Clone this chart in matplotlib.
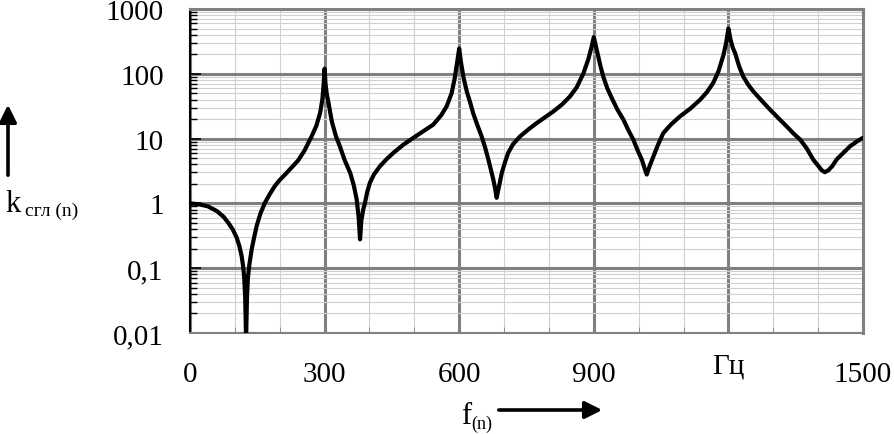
import matplotlib.pyplot as plt
import matplotlib.transforms as mtransforms
from matplotlib.ticker import FixedLocator, LogLocator, NullFormatter

plt.rcParams['font.family'] = ['Liberation Serif', 'DejaVu Serif']

# Значения
freq = [0, 20, 40, 60, 75, 85, 95, 104, 110, 115, 119, 121, 123, 125, 127, 129, 132,
        137.5, 143, 148.6, 157, 167, 178, 189, 200, 212, 225, 241, 255, 271, 282, 290,
        295, 298, 300, 302, 305, 308, 316, 325, 334, 345, 357, 365, 371.5, 376, 379,
        382, 386, 390, 395, 401, 410, 423.5, 438, 453, 475, 498, 520, 542, 560, 572,
        583, 590, 596, 600, 604, 610, 617, 625, 631, 640, 650, 658, 665, 672, 676, 680,
        683.5, 687, 691, 695, 702, 709, 720, 735.5, 755, 773, 792, 810, 830, 847, 862,
        877, 888, 895, 900, 905, 910, 915, 921, 930, 940, 952, 966, 977, 988, 998, 1007,
        1013, 1018, 1024, 1033, 1043, 1055, 1072, 1092, 1115, 1137, 1152, 1166, 1178,
        1189, 1195, 1200, 1205, 1210, 1215, 1224, 1233, 1244, 1256, 1275, 1293, 1312,
        1330, 1345, 1360, 1375, 1389, 1400, 1408, 1415, 1423, 1432, 1441, 1456, 1471,
        1486, 1500]
k_sgl = [1.0, 0.97, 0.9, 0.76, 0.62, 0.505, 0.4, 0.297, 0.22, 0.155, 0.1, 0.068, 0.035,
         0.008, 0.035, 0.07, 0.11, 0.196, 0.3, 0.448, 0.7, 1.02, 1.4, 1.85, 2.3, 2.79,
         3.5, 4.6, 6.5, 10.8, 16, 25, 40, 70, 120, 70, 48, 38, 18.5, 11, 7.6, 4.6, 2.97,
         1.9, 1.15, 0.6, 0.279, 0.55, 0.8, 1.02, 1.5, 2.08, 2.8, 3.75, 4.8, 6.0, 8.0,
         10.3, 13, 16.4, 23, 31.4, 50, 85, 160, 245, 150, 85, 53, 35, 24.8, 16.5, 10.8,
         7.2, 4.75, 3.0, 2.34, 1.7, 1.22, 1.6, 2.2, 2.97, 4.3, 6.0, 8.2, 10.8, 14, 17.4,
         21.5, 26.3, 34, 44.8, 62, 102, 170, 260, 370, 260, 185, 130, 91, 60, 42.3, 28.5,
         19.6, 13.5, 9.66, 6.5, 4.75, 3.5, 2.79, 3.7, 5.35, 8, 12.2, 16.5, 22, 29, 39.8,
         52, 72, 110, 195, 300, 500, 330, 250, 208, 130, 91, 68, 53, 38, 27.9, 20.5, 15.4,
         12, 9.66, 7, 4.75, 3.8, 3.25, 3.03, 3.25, 3.8, 4.75, 6.0, 7.6, 9, 10.3]

x_ticks = [0, 300, 600, 900, 1200, 1500]
x_labels = ['0', '300', '600', '900', 'Гц', '1500']
y_ticks = [0.01, 0.1, 1, 10, 100, 1000]
y_labels = ['0,01', '0,1', '1', '10', '100', '1000']

fig = plt.figure(figsize=(8.94, 4.35), dpi=100)
ax = fig.add_axes([190 / 894, 101 / 435, 673 / 894, 324 / 435])

ax.plot(freq, k_sgl, color='black', lw=3.0, solid_joinstyle='round',
        solid_capstyle='round', zorder=5)

ax.set_yscale('log')
ax.set_xlim(0, 1500)
ax.set_ylim(0.01, 1000)

ax.set_xticks(x_ticks)
ax.set_xticklabels(x_labels)
ax.xaxis.set_minor_locator(FixedLocator(range(100, 1500, 100)))
ax.set_yticks(y_ticks)
ax.set_yticklabels(y_labels)
ax.yaxis.set_minor_locator(LogLocator(base=10, subs=range(2, 10)))
ax.yaxis.set_minor_formatter(NullFormatter())

# сетка
ax.grid(which='major', color='#808080', lw=2.2)
ax.grid(which='minor', color='#d0d0d0', lw=0.8)
ax.set_axisbelow(True)

ax.tick_params(axis='x', which='major', length=0, pad=20, labelsize=21)
ax.tick_params(axis='x', which='minor', direction='in', length=4, color='#808080')
ax.tick_params(axis='y', which='major', direction='in', length=8, width=1.2,
               color='black', pad=19, labelsize=21)
ax.tick_params(axis='y', which='minor', direction='in', length=5, width=1.0, color='black')

# "Гц" стоит чуть выше остальных подписей
lbl = ax.get_xticklabels()[4]
lbl.set_transform(lbl.get_transform() + mtransforms.ScaledTranslation(0, 6 / 72, fig.dpi_scale_trans))

ax.spines['left'].set_color('black')
ax.spines['left'].set_linewidth(1.5)
for s in ['bottom', 'top', 'right']:
    ax.spines[s].set_color('#808080')
ax.spines['bottom'].set_linewidth(1.5)
ax.spines['top'].set_linewidth(2.2)
ax.spines['right'].set_linewidth(2.2)

# подписи осей со стрелками
W, H = 894, 435
fig.text(5 / W, 1 - 212 / H, 'k', fontsize=22, ha='left', va='baseline')
fig.text(25 / W, 1 - 216 / H, 'сгл (n)', fontsize=14, ha='left', va='baseline')
ax.annotate('', xy=(8 / W, 1 - 103 / H), xytext=(8 / W, 1 - 179 / H),
            xycoords='figure fraction', textcoords='figure fraction',
            arrowprops=dict(arrowstyle='-|>', lw=2.6, color='black', mutation_scale=26))

fig.text(461 / W, 1 - 424 / H, 'f', fontsize=22, ha='left', va='baseline')
fig.text(471 / W, 1 - 429 / H, '(n)', fontsize=13, ha='left', va='baseline')
ax.annotate('', xy=(605 / W, 1 - 411 / H), xytext=(496 / W, 1 - 411 / H),
            xycoords='figure fraction', textcoords='figure fraction',
            arrowprops=dict(arrowstyle='-|>', lw=2.6, color='black', mutation_scale=26))

fig.savefig('out.png', dpi=100)
